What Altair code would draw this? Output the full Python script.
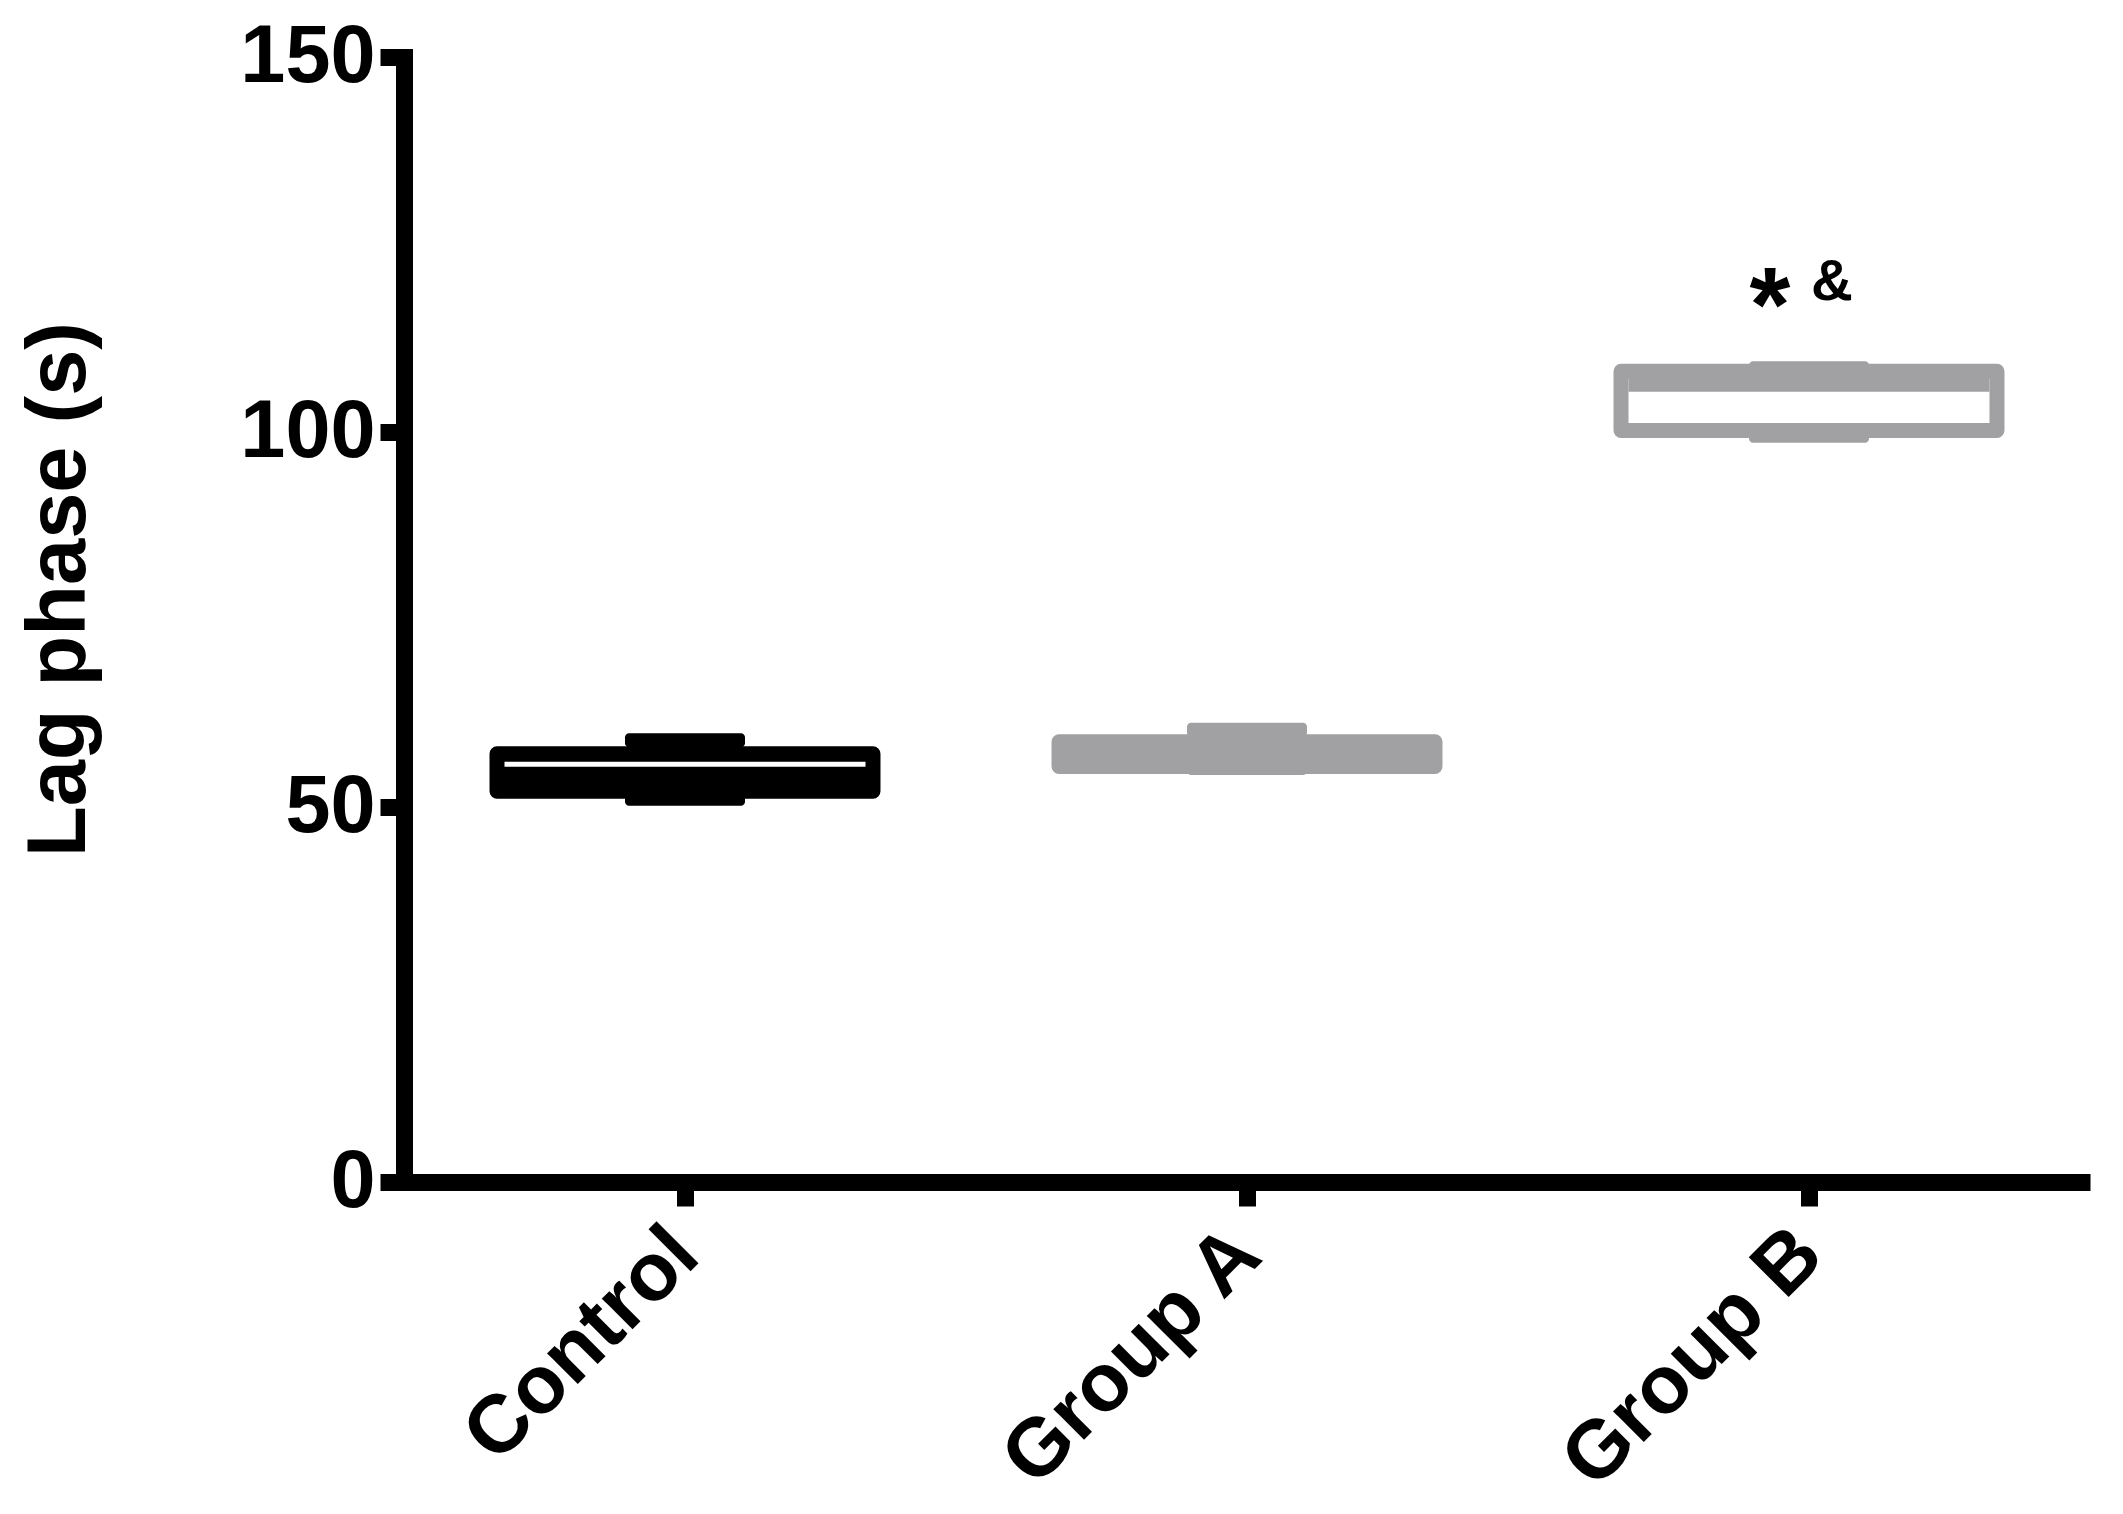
import altair as alt
import pandas as pd

# ---- data ----
groups = ["Control", "Group A", "Group B"]
whisker_min = [51.1, 55.2, 99.5]
q1 = [52.1, 55.4, 100.2]
median = [55.7, 57.0, 106.3]
q3 = [57.1, 58.7, 108.1]
whisker_max = [58.9, 60.3, 108.5]

y_ticks = [0, 50, 100, 150]

ann_group = ["Group B"]
ann_star = ["*"]
ann_amp = ["&"]
ann_level = [117.6]

# ---- styles ----
FONT = "Liberation Sans"
BLACK = "#000000"
GRAY = "#a1a1a3"
fill_range = [BLACK, GRAY, "#ffffff"]
stroke_range = [BLACK, GRAY, GRAY]

df = pd.DataFrame({
    "group": groups,
    "lo": whisker_min,
    "q1": q1,
    "median": median,
    "q3": q3,
    "hi": whisker_max,
})
ann = pd.DataFrame({"group": ann_group, "star": ann_star, "amp": ann_amp, "y": ann_level})

x_enc = alt.X(
    "group:N",
    sort=groups,
    scale=alt.Scale(domain=groups, paddingInner=0, paddingOuter=0),
    axis=alt.Axis(
        title=None,
        labelAngle=-45,
        labelAlign="right",
        labelBaseline="middle",
        labelFont=FONT,
        labelFontWeight="bold",
        labelFontSize=82,
        labelColor=BLACK,
        labelPadding=35,
        labelLimit=0,
        labelOverlap=False,
        labelBound=False,
        domainColor=BLACK,
        domainWidth=17,
        domainCap="butt",
        tickColor=BLACK,
        tickWidth=17,
        tickSize=24,
        grid=False,
    ),
)
y_scale = alt.Scale(domain=[0, 150], nice=False, zero=True)
y_axis = alt.Axis(
    title="Lag phase (s)",
    values=y_ticks,
    titleFont=FONT,
    titleFontWeight="bold",
    titleFontSize=83,
    titleColor=BLACK,
    titleAngle=270,
    titleAlign="center",
    titleBaseline="alphabetic",
    titleX=-320,
    titleY=532,
    labelFont=FONT,
    labelFontWeight="bold",
    labelFontSize=81,
    labelColor=BLACK,
    labelPadding=5,
    labelBaseline="middle",
    labelLimit=0,
    domainColor=BLACK,
    domainWidth=17,
    domainCap="square",
    tickColor=BLACK,
    tickWidth=17,
    tickSize=24,
    grid=False,
)

stroke_scale = alt.Scale(domain=groups, range=stroke_range)
fill_scale = alt.Scale(domain=groups, range=fill_range)

base = alt.Chart(df)

whisk_hi = base.mark_rule(strokeWidth=14).encode(
    x=x_enc,
    y=alt.Y("q3:Q", scale=y_scale, axis=y_axis),
    y2="hi:Q",
    color=alt.Color("group:N", scale=stroke_scale, legend=None),
)
whisk_lo = base.mark_rule(strokeWidth=14).encode(
    x=x_enc,
    y=alt.Y("lo:Q", scale=y_scale),
    y2="q1:Q",
    color=alt.Color("group:N", scale=stroke_scale, legend=None),
)
cap_hi = base.mark_tick(size=120, thickness=14, cornerRadius=4, opacity=1).encode(
    x=x_enc,
    y=alt.Y("hi:Q", scale=y_scale),
    color=alt.Color("group:N", scale=stroke_scale, legend=None),
)
cap_lo = base.mark_tick(size=120, thickness=14, cornerRadius=4, opacity=1).encode(
    x=x_enc,
    y=alt.Y("lo:Q", scale=y_scale),
    color=alt.Color("group:N", scale=stroke_scale, legend=None),
)
box = base.mark_bar(
    width={"band": 0.669}, strokeWidth=15, strokeJoin="round", opacity=1
).encode(
    x=x_enc,
    y=alt.Y("q1:Q", scale=y_scale),
    y2="q3:Q",
    fill=alt.Fill("group:N", scale=fill_scale, legend=None),
    stroke=alt.Stroke("group:N", scale=stroke_scale, legend=None),
)
med_gray = base.transform_filter(alt.datum.group != "Control").mark_tick(
    size=361, thickness=14, opacity=1
).encode(
    x=x_enc,
    y=alt.Y("median:Q", scale=y_scale),
    color=alt.Color("group:N", scale=stroke_scale, legend=None),
)
med_white = base.transform_filter(alt.datum.group == "Control").mark_tick(
    size=361, thickness=5, opacity=1, color="#ffffff"
).encode(
    x=x_enc,
    y=alt.Y("median:Q", scale=y_scale),
)

star = alt.Chart(ann).mark_text(
    font=FONT, fontWeight="bold", fontSize=105, color=BLACK,
    align="center", baseline="alphabetic", dx=-39, dy=41,
).encode(x=x_enc, y=alt.Y("y:Q", scale=y_scale), text="star:N")
amp = alt.Chart(ann).mark_text(
    font=FONT, fontWeight="bold", fontSize=58, color=BLACK,
    align="center", baseline="alphabetic", dx=23,
).encode(x=x_enc, y=alt.Y("y:Q", scale=y_scale), text="amp:N")

chart = alt.layer(
    whisk_hi, whisk_lo, cap_hi, cap_lo, box, med_gray, med_white, star, amp
).properties(
    width=1686,
    height=1125,
    background="#ffffff",
    autosize=alt.AutoSizeParams(type="none"),
    padding={"left": 396, "top": 49, "right": 20, "bottom": 322},
).configure_view(strokeWidth=0, stroke="transparent")

chart.save("out.html", embed_options={"renderer": "svg", "actions": False})
